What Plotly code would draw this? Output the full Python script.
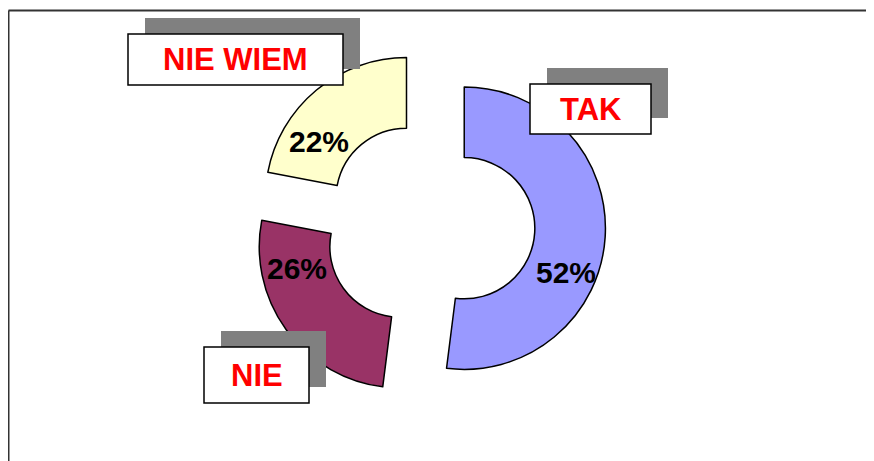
import plotly.graph_objects as go

# ---- data ----
categories = ["TAK", "NIE", "NIE WIEM"]
values = [52, 26, 22]
colors = ["#9999FF", "#993366", "#FFFFCC"]

# ---- layout constants (page pixels; page shows the figure offset by 8px) ----
W, H = 874, 461
OFF = 8
cx, cy = 429, 226          # common centre of the exploded donut
half = 176.5               # half-size of pie domain (radius*(1+pull))
pull = 0.25

# label boxes (left, top, right, bottom) in pixels, per category
label_boxes = {
    "TAK": (530, 84, 651, 134),
    "NIE": (204, 347, 309, 403),
    "NIE WIEM": (128, 34, 343, 85),
}
shadow_off = (17, -16)
# percent label centres in pixels
pct_pos = {
    "TAK": (566, 272),
    "NIE": (297, 268),
    "NIE WIEM": (319, 142),
}


def px(x):
    return (x - OFF) / W


def py(y):
    return 1 - (y - OFF) / H


fig = go.Figure(
    go.Pie(
        labels=categories,
        values=values,
        marker=dict(colors=colors, line=dict(color="black", width=1.5)),
        hole=0.5,
        sort=False,
        direction="clockwise",
        rotation=0,
        pull=[pull] * len(values),
        textinfo="none",
        hoverinfo="label+percent",
        domain=dict(x=[px(cx - half), px(cx + half)],
                    y=[py(cy + half), py(cy - half)]),
    )
)

shapes = [
    # frame lines
    dict(type="line", xref="paper", yref="paper", x0=px(8.5), x1=1.0,
         y0=py(10.5), y1=py(10.5), line=dict(color="#333333", width=2)),
    dict(type="line", xref="paper", yref="paper", x0=px(8.5), x1=px(8.5),
         y0=py(10.5), y1=0, line=dict(color="#333333", width=2)),
]
annotations = []
total = sum(values)
for cat, v in zip(categories, values):
    l, t, r, b = label_boxes[cat]
    dx, dy = shadow_off
    shapes.append(dict(type="rect", xref="paper", yref="paper",
                       x0=px(l + dx), x1=px(r + dx), y0=py(b + dy), y1=py(t + dy),
                       fillcolor="#808080", line=dict(width=0)))
    shapes.append(dict(type="rect", xref="paper", yref="paper",
                       x0=px(l), x1=px(r), y0=py(b), y1=py(t),
                       fillcolor="white", line=dict(color="black", width=1.5)))
    annotations.append(dict(
        x=px((l + r) / 2), y=py((t + b) / 2), xref="paper", yref="paper",
        text=f"<b>{cat}</b>", showarrow=False, xanchor="center", yanchor="middle",
        font=dict(family="Liberation Sans, Arial, sans-serif", size=31, color="#FF0000")))
    ppx, ppy = pct_pos[cat]
    annotations.append(dict(
        x=px(ppx), y=py(ppy), xref="paper", yref="paper",
        text=f"<b>{round(100 * v / total)}%</b>", showarrow=False,
        xanchor="center", yanchor="middle",
        font=dict(family="Liberation Sans, Arial, sans-serif", size=30, color="black")))

fig.update_layout(
    width=W, height=H,
    margin=dict(l=0, r=0, t=0, b=0),
    paper_bgcolor="white",
    plot_bgcolor="white",
    showlegend=False,
    shapes=shapes,
    annotations=annotations,
)

fig.write_html("out.html")
